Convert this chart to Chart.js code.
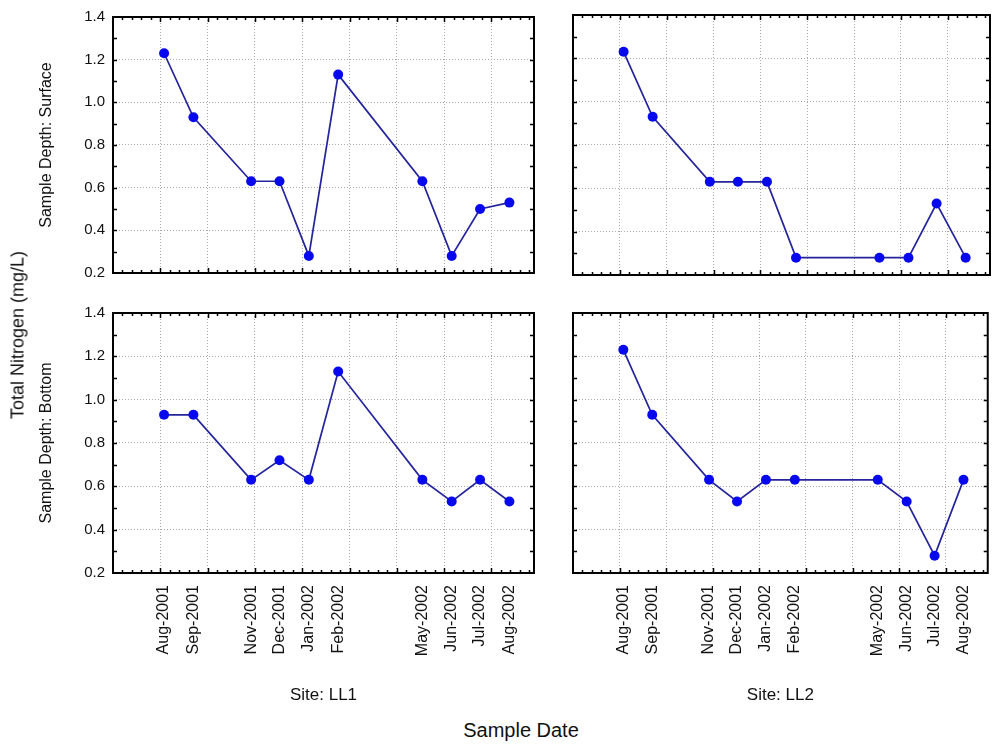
<!DOCTYPE html>
<html>
<head>
<meta charset="utf-8">
<script src="https://cdn.jsdelivr.net/npm/chart.js@4/dist/chart.umd.min.js"></script>
<style>
  body { margin: 0; background: #fff; width: 995px; height: 750px; position: relative; overflow: hidden;
         font-family: "Liberation Sans", Arial, sans-serif; color: #111; }
  canvas { position: absolute; }
  .lbl { position: absolute; white-space: nowrap; }
</style>
</head>
<body>
<canvas id="tl" width="545" height="290" style="left:0;top:0"></canvas>
<canvas id="tr" width="450" height="290" style="left:545px;top:0"></canvas>
<canvas id="bl" width="545" height="425" style="left:0;top:290px"></canvas>
<canvas id="br" width="450" height="425" style="left:545px;top:290px"></canvas>

<div class="lbl" style="left:18px;top:335px;font-size:18px;transform:translate(-50%,-50%) rotate(-90deg);">Total Nitrogen (mg/L)</div>
<div class="lbl" style="left:521px;top:730px;font-size:20px;transform:translate(-50%,-50%);">Sample Date</div>

<script>
// sample dates (first of month) and their axis labels
const sampleDates = ['2001-08-01', '2001-09-01', '2001-11-01', '2001-12-01', '2002-01-01',
                     '2002-02-01', '2002-05-01', '2002-06-01', '2002-07-01', '2002-08-01'];
const dateLabels = ['Aug-2001', 'Sep-2001', 'Nov-2001', 'Dec-2001', 'Jan-2002',
                    'Feb-2002', 'May-2002', 'Jun-2002', 'Jul-2002', 'Aug-2002'];

// total nitrogen (mg/L)
const ll1Surface = [1.23, 0.93, 0.63, 0.63, 0.28, 1.13, 0.63, 0.28, 0.50, 0.53];
const ll2Surface = [1.23, 0.93, 0.63, 0.63, 0.63, 0.28, 0.28, 0.28, 0.53, 0.28];
const ll1Bottom  = [0.93, 0.93, 0.63, 0.72, 0.63, 1.13, 0.63, 0.53, 0.63, 0.53];
const ll2Bottom  = [1.23, 0.93, 0.63, 0.53, 0.63, 0.63, 0.63, 0.53, 0.28, 0.63];

// date axis works in spreadsheet serial days, gridlines every 50 days
const gridDays = [37100, 37150, 37200, 37250, 37300, 37350, 37400, 37450];
const xMin = 37050, xMax = 37495;
const yTicks = [0.2, 0.4, 0.6, 0.8, 1.0, 1.2, 1.4];

const toSerial = s => Date.parse(s + 'T00:00:00Z') / 86400000 + 25569;
const sampleDays = sampleDates.map(toSerial);

const FONT = '"Liberation Sans", Arial, sans-serif';

// black box round the plot with small inward tick marks
const framePlugin = {
    id: 'frame',
    afterDraw(chart) {
        const { ctx, chartArea: a, scales: { x, y } } = chart;
        ctx.save();
        ctx.strokeStyle = '#000';
        ctx.lineWidth = 2;
        ctx.strokeRect(a.left, a.top, a.right - a.left, a.bottom - a.top);
        ctx.lineWidth = 1.5;
        ctx.beginPath();
        for (let v = 0.3; v < 1.39; v += 0.1) {
            const py = Math.round(y.getPixelForValue(v)) + 0.5;
            ctx.moveTo(a.left, py); ctx.lineTo(a.left + 4, py);
            ctx.moveTo(a.right, py); ctx.lineTo(a.right - 4, py);
        }
        for (let d = 37060; d < xMax; d += 10) {
            const px = Math.round(x.getPixelForValue(d)) + 0.5;
            const len = d % 50 === 0 ? 5 : 3;
            ctx.moveTo(px, a.top); ctx.lineTo(px, a.top + len);
            ctx.moveTo(px, a.bottom); ctx.lineTo(px, a.bottom - len);
        }
        ctx.stroke();
        ctx.restore();
    }
};

function makePanel(id, values, opt) {
    const pts = sampleDays.map((d, i) => ({ x: d, y: values[i] }));
    new Chart(document.getElementById(id), {
        type: 'line',
        data: {
            datasets: [{
                data: pts,
                borderColor: '#24249c',
                borderWidth: 1.7,
                pointRadius: 5,
                pointBackgroundColor: '#0808ee',
                pointBorderColor: '#0808ee',
                pointBorderWidth: 0,
                tension: 0
            }]
        },
        options: {
            responsive: false,
            animation: false,
            devicePixelRatio: 1,
            layout: { padding: opt.padding },
            plugins: { legend: { display: false }, tooltip: { enabled: false } },
            scales: {
                x: {
                    type: 'linear',
                    min: xMin,
                    max: xMax,
                    afterBuildTicks: s => {
                        const vals = gridDays.concat(sampleDays).sort((a, b) => a - b);
                        s.ticks = vals.map(v => ({ value: v }));
                    },
                    afterFit: s => { s.height = opt.xHeight; },
                    grid: {
                        drawTicks: false,
                        color: c => gridDays.includes(c.tick.value) ? '#a9a9a9' : 'rgba(0,0,0,0)',
                        lineWidth: 1
                    },
                    border: { display: false, dash: [1, 2] },
                    ticks: {
                        display: opt.showX,
                        autoSkip: false,
                        maxRotation: 90,
                        minRotation: 90,
                        padding: 12,
                        color: '#111',
                        font: { family: FONT, size: 16 },
                        callback: v => {
                            const i = sampleDays.indexOf(v);
                            return i >= 0 ? dateLabels[i] : '';
                        }
                    },
                    title: {
                        display: !!opt.xTitle,
                        text: opt.xTitle || '',
                        color: '#111',
                        font: { family: FONT, size: 17 },
                        padding: { top: 0, bottom: 9 }
                    }
                },
                y: {
                    min: 0.2,
                    max: 1.4,
                    afterBuildTicks: s => { s.ticks = yTicks.map(v => ({ value: v })); },
                    afterFit: s => { s.width = opt.yWidth; },
                    grid: { drawTicks: false, color: '#a9a9a9', lineWidth: 1 },
                    border: { display: false, dash: [1, 2] },
                    ticks: {
                        display: opt.showY,
                        padding: 8,
                        color: '#111',
                        font: { family: FONT, size: 15 },
                        callback: v => v.toFixed(1)
                    },
                    title: {
                        display: !!opt.yTitle,
                        text: opt.yTitle || '',
                        color: '#111',
                        font: { family: FONT, size: 16 },
                        padding: { top: 37, bottom: 0 }
                    }
                }
            }
        },
        plugins: [framePlugin]
    });
}

makePanel('tl', ll1Surface, {
    padding: { left: 0, top: 15, right: 11, bottom: 15 },
    yWidth: 113, xHeight: 0, showY: true, showX: false,
    yTitle: 'Sample Depth: Surface'
});
makePanel('tr', ll2Surface, {
    padding: { left: 28, top: 15, right: 5, bottom: 15 },
    yWidth: 0, xHeight: 0, showY: false, showX: false
});
makePanel('bl', ll1Bottom, {
    padding: { left: 0, top: 23, right: 11, bottom: 0 },
    yWidth: 113, xHeight: 142, showY: true, showX: true,
    yTitle: 'Sample Depth: Bottom', xTitle: 'Site: LL1'
});
makePanel('br', ll2Bottom, {
    padding: { left: 28, top: 23, right: 5, bottom: 0 },
    yWidth: 0, xHeight: 142, showY: false, showX: true,
    xTitle: 'Site: LL2'
});
</script>
</body>
</html>
